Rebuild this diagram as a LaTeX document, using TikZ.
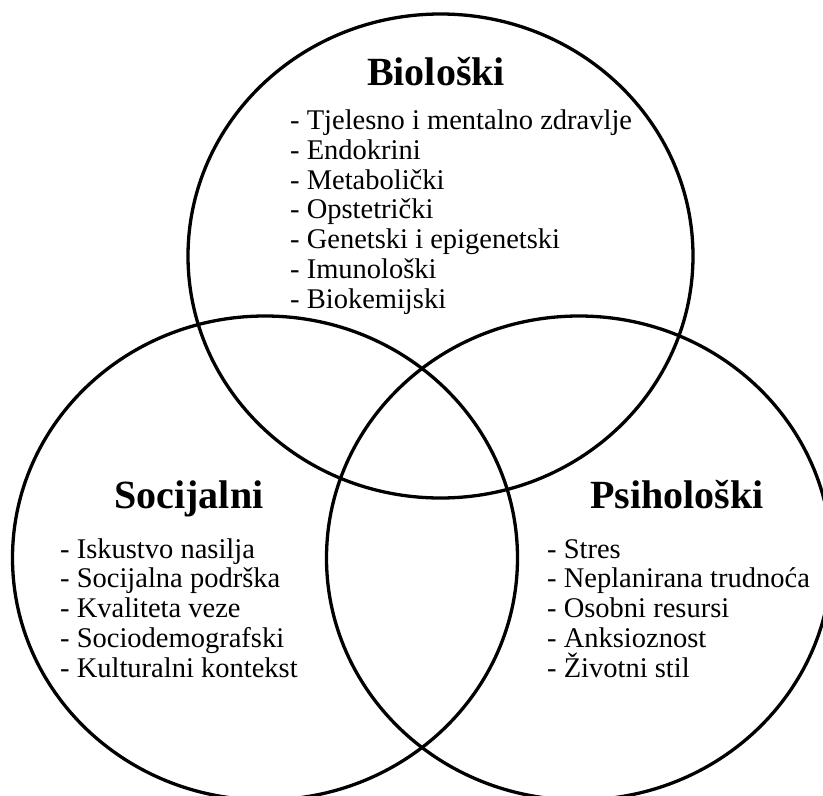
\documentclass[tikz,border=0pt]{standalone}
\usepackage{fontspec}
\setmainfont{Liberation Serif}
\usetikzlibrary{shapes.geometric}
\begin{document}
\begin{tikzpicture}[x=1pt,y=-1pt,
  ring/.style={draw=black, line width=3.3pt, ellipse, inner sep=0pt, outer sep=0pt,
               minimum width=505pt, minimum height=484pt},
  heading/.style={inner sep=0pt, anchor=base, font=\fontsize{40}{44}\selectfont\bfseries},
  items/.style={inner sep=0pt, anchor=base west, align=left,
                font=\fontsize{28.5}{29.7}\selectfont}]
  \useasboundingbox (0,0) rectangle (823,796);
  \clip (0,0) rectangle (823,796);
  % the three overlapping domains
  \node[ring] (bio) at (440.5,256) {};
  \node[ring] (soc) at (265,558) {};
  \node[ring] (psi) at (579,558) {};
  % biological factors (list placed by the baseline of its last line)
  \node[heading] (bioT) at (436,85) {Biološki};
  \node[items] (bioL) at (290,308) {- Tjelesno i mentalno zdravlje\\- Endokrini\\- Metabolički\\- Opstetrički\\- Genetski i epigenetski\\- Imunološki\\- Biokemijski};
  % social factors
  \node[heading] (socT) at (189,508) {Socijalni};
  \node[items] (socL) at (60,677) {- Iskustvo nasilja\\- Socijalna podrška\\- Kvaliteta veze\\- Sociodemografski\\- Kulturalni kontekst};
  % psychological factors
  \node[heading] (psiT) at (677,508) {Psihološki};
  \node[items] (psiL) at (547,677) {- Stres\\- Neplanirana trudnoća\\- Osobni resursi\\- Anksioznost\\- Životni stil};
\end{tikzpicture}
\end{document}
